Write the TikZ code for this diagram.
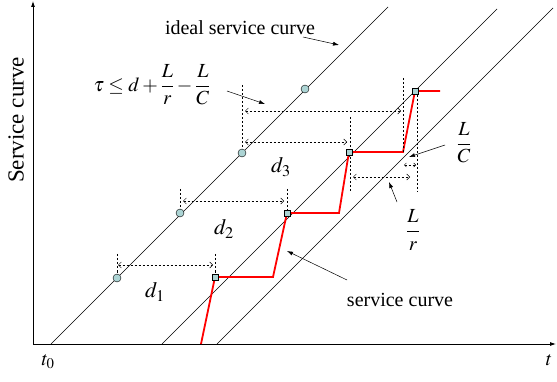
\documentclass[tikz,border=0pt]{standalone}
\usepackage{amsmath}
\usepackage{mathptmx}
\usepackage{fontspec}
\setmainfont{Liberation Serif}
\usetikzlibrary{arrows.meta}
\definecolor{dotfill}{RGB}{172,212,212}

\begin{document}
\begin{tikzpicture}[x=1pt,y=-1pt,
  dot/.style={circle,draw,fill=dotfill,inner sep=0pt,minimum size=8pt},
  sq/.style={rectangle,draw,fill=dotfill,inner sep=0pt,minimum size=6pt},
  tick/.style={dash pattern=on 2.5pt off 1.5pt,line width=0.5pt},
  gap/.style={tick,{Straight Barb[length=3pt,width=6pt]}-{Straight Barb[length=3pt,width=6pt]}},
  pointer/.style={line width=0.5pt,-{Latex[length=6pt,width=4pt]}},
  lbl/.style={font=\fontsize{20}{24}\selectfont,inner sep=0pt},
  dlbl/.style={font=\fontsize{22}{26}\selectfont,inner sep=0pt}]
  \useasboundingbox (0,0) rectangle (557,382);
  % axes
  \draw[line width=0.8pt,-{Latex[length=6pt,width=4pt]}] (33,344) -- (33,1);
  \draw[line width=0.8pt,-{Latex[length=6pt,width=4pt]}] (33,344) -- (556,344);
  \node[lbl,font=\fontsize{23}{26}\selectfont,rotate=90] (ylab) at (16,120) {Service curve};
  \node[lbl] (t0) at (48,362) {$t_0$};
  \node[lbl] (t) at (549,360) {$t$};
  % ideal and guaranteed curves
  \draw[line width=0.7pt] (51,344) -- (388,7);
  \draw[line width=0.7pt] (162,344) -- (497,9);
  \draw[line width=0.7pt] (217,344) -- (553,8);
  % actual service
  \draw[red,line width=1.8pt] (201,344) -- (215,277) -- (273,277) -- (287,213) -- (339,213)
    -- (349,152) -- (403,152) -- (415,91) -- (440,91);
  % d_1
  \draw[tick] (117,254) -- (117,278);
  \draw[tick] (215,254) -- (215,277);
  \draw[gap] (118,265) -- (213,265);
  \node[dlbl] (d1) at (155,292) {$d_1$};
  % d_2
  \draw[tick] (180,189) -- (180,213);
  \draw[tick] (287,189) -- (287,213);
  \draw[gap] (183,201) -- (284,201);
  \node[dlbl] (d2) at (224,229) {$d_2$};
  % d_3
  \draw[tick] (242,85) -- (242,153);
  \draw[tick] (350,117) -- (350,192);
  \draw[gap] (245,142) -- (347,142);
  \node[dlbl] (d3) at (281,167) {$d_3$};
  % bound
  \draw[tick] (403,78) -- (403,152);
  \draw[tick] (417,91) -- (417,192);
  \draw[gap] (245,111) -- (401,111);
  \draw[tick,{Straight Barb[length=2pt,width=4pt]}-{Straight Barb[length=2pt,width=4pt]}] (404,165) -- (416,165);
  \draw[gap] (353,177) -- (410,177);
  % points
  \foreach \n/\x/\y in {1/117/278, 2/180/213, 3/242/153, 4/305/89}
    \node[dot] (c\n) at (\x,\y) {};
  \foreach \n/\x/\y in {1/215/277, 2/287/213, 3/349/152, 4/415/91}
    \node[sq] (s\n) at (\x,\y) {};
  % labels
  \node[lbl] (ideal) at (240,28) {ideal service curve};
  \node[lbl] (bound) at (152,85) {$\tau \le d + \dfrac{L}{r} - \dfrac{L}{C}$};
  \node[lbl] (LC) at (464,143) {$\dfrac{L}{C}$};
  \node[lbl] (Lr) at (413,230) {$\dfrac{L}{r}$};
  \node[lbl] (serv) at (400,300) {service curve};
  \draw[pointer] (303,37) -- (339,45);
  \draw[pointer] (227,91) -- (265,104);
  \draw[pointer] (445,145) -- (409,157);
  \draw[pointer] (397,202) -- (389,182);
  \draw[pointer] (347,280) -- (287,251);
\end{tikzpicture}
\end{document}
